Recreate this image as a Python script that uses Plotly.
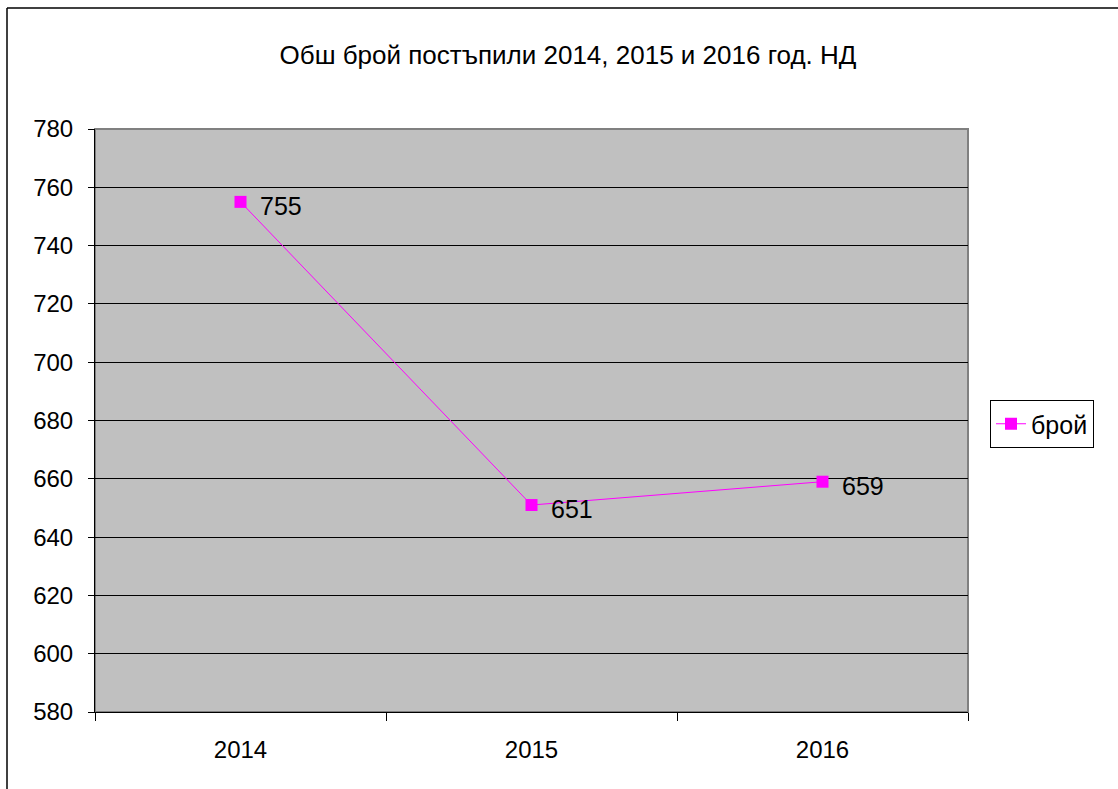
import plotly.graph_objects as go

years = ["2014", "2015", "2016"]
values = [755, 651, 659]
series_name = "брой"
title_text = "Обш брой постъпили 2014, 2015 и 2016 год. НД"
y_ticks = list(range(580, 781, 20))

W, H = 1118, 789
L, R, T, B = 95, 968, 129, 712
FONT = "Liberation Sans, Arial"

fig = go.Figure()
fig.add_trace(go.Scatter(
    x=years, y=values, name=series_name,
    mode="lines+markers",
    line=dict(color="#FF00FF", width=1),
    marker=dict(symbol="square", size=12, color="#FF00FF"),
    cliponaxis=False,
))

annotations = [
    dict(x=i, y=yv, xref="x", yref="y", text=str(yv), showarrow=False,
         xanchor="left", yanchor="middle", xshift=17, yshift=-4,
         font=dict(family=FONT, size=25, color="black"))
    for i, yv in enumerate(values)
]

def px_x(px):
    return (px - L) / (R - L)

def px_y(py):
    return (B - py) / (B - T)

shapes = [
    dict(type="line", xref="paper", yref="paper", x0=px_x(7), x1=px_x(7), y0=px_y(8), y1=px_y(800),
         line=dict(color="black", width=1.5)),
    dict(type="line", xref="paper", yref="paper", x0=px_x(7), x1=px_x(1125), y0=px_y(8), y1=px_y(8),
         line=dict(color="black", width=1.5)),
    dict(type="rect", xref="paper", yref="paper", x0=0, x1=1, y0=0, y1=1,
         line=dict(color="#808080", width=2), layer="below"),
]

fig.update_layout(
    width=W, height=H,
    margin=dict(l=L, r=W - R, t=T, b=H - B, pad=0),
    paper_bgcolor="white",
    plot_bgcolor="#C0C0C0",
    font=dict(family=FONT, size=24, color="black"),
    title=dict(text=title_text, x=568 / W, xanchor="center", y=1 - 55 / H, yanchor="middle",
               font=dict(size=26)),
    showlegend=True,
    legend=dict(x=px_x(990), xanchor="left", y=px_y(400), yanchor="top",
                bordercolor="black", borderwidth=1, bgcolor="white",
                font=dict(size=25), itemwidth=30),
    annotations=annotations,
    shapes=shapes,
    xaxis=dict(
        type="category", range=[-0.5, 2.5],
        showline=True, linecolor="black", linewidth=1,
        ticks="outside", tickson="boundaries", ticklen=8, tickcolor="black",
        showgrid=False, zeroline=False,
        tickfont=dict(size=24), ticklabelstandoff=16,
    ),
    yaxis=dict(
        range=[580, 780], tickvals=y_ticks,
        showline=True, linecolor="black", linewidth=1,
        ticks="outside", ticklen=6, tickcolor="black",
        showgrid=True, gridcolor="black", gridwidth=1,
        zeroline=False, tickfont=dict(size=24), ticklabelstandoff=10,
    ),
)

fig.write_html("out.html", config={"displayModeBar": False},
               post_script="document.body.style.margin='0';document.body.style.overflow='hidden';")
